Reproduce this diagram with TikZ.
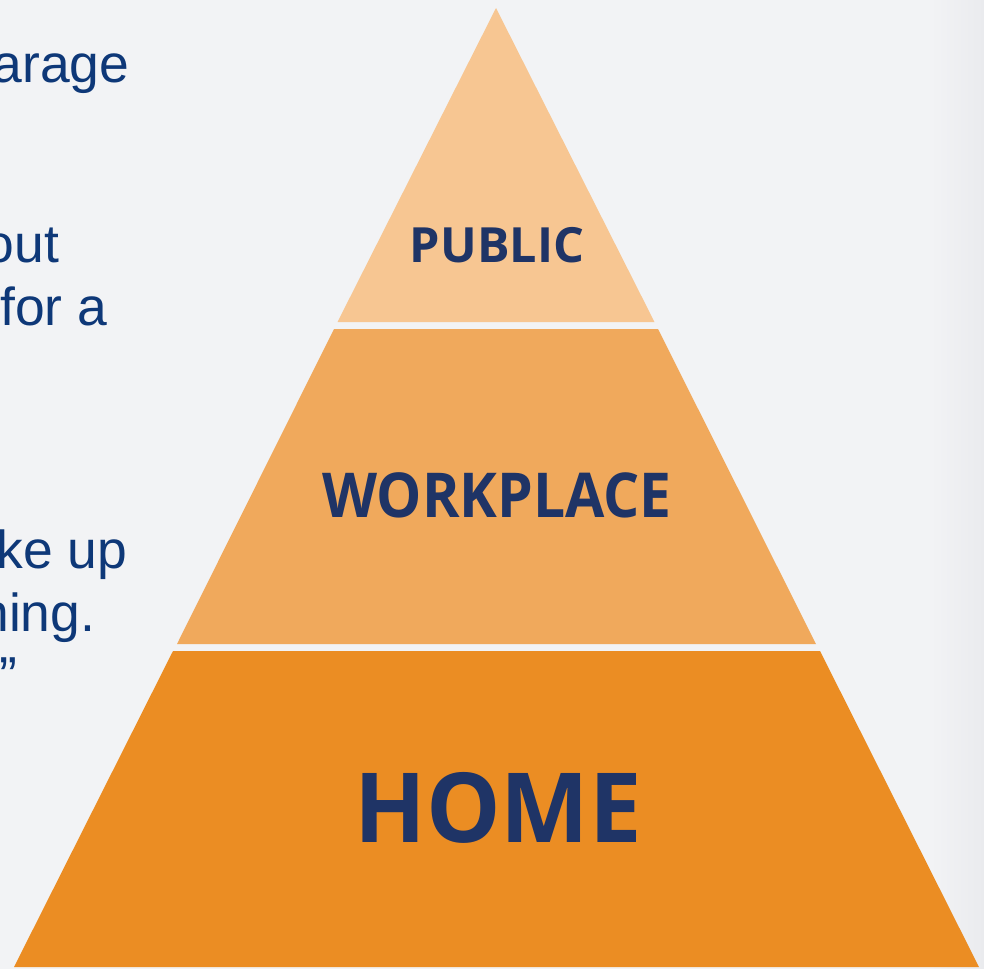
\documentclass[tikz,border=0pt]{standalone}
\usepackage{fontspec}
\setmainfont{Liberation Sans}
\newfontfamily\tierfont{Open Sans}
\usetikzlibrary{shadings}
\definecolor{bgcol}{HTML}{F2F3F5}
\definecolor{bgedge}{HTML}{EAEBEE}
\definecolor{pubcol}{HTML}{F7C692}
\definecolor{workcol}{HTML}{F0A95C}
\definecolor{homecol}{HTML}{EB8D23}
\definecolor{labcol}{HTML}{1F3466}
\definecolor{txtcol}{HTML}{0E3878}
\tikzset{
  frag/.style={anchor=base east, inner sep=0pt, text=txtcol, font=\fontsize{15.2}{18}\selectfont},
  tierlab/.style={inner sep=0pt, text=labcol},
}
\begin{document}
\begin{tikzpicture}[x=0.01cm,y=-0.01cm]
\useasboundingbox (0,0) rectangle (984,969);
\clip (0,0) rectangle (984,969);
\fill[bgcol] (0,0) rectangle (984,969);
\shade[left color=bgcol, right color=bgedge] (930,0) rectangle (984,969);
% tiers
\fill[pubcol] (496,8) -- (654.5,322) -- (337.5,322) -- cycle;
\fill[workcol] (334,329) -- (658,329) -- (816,644) -- (177,644) -- cycle;
\fill[homecol] (173,651) -- (820,651) -- (979,967) -- (14,967) -- cycle;
% tier labels
\node[tierlab, font=\tierfont\bfseries\fontsize{13.8}{16}\selectfont] (public) at (497,245) {PUBLIC};
\node[tierlab, font=\tierfont\bfseries\fontsize{17.6}{20}\selectfont, xscale=0.92] (workplace) at (497,495) {WORKPLACE};
\node[tierlab, font=\tierfont\bfseries\fontsize{27.5}{30}\selectfont, xscale=0.97] (home) at (498,808) {HOME};
% cut-off text on the left
\node[frag] (t1) at (130,82) {arage};
\node[frag] (t2) at (60,262) {out};
\node[frag] (t3) at (108,325) {for a};
\node[frag] (t4) at (128,568) {ke up};
\node[frag] (t5) at (96,631) {ning.};
\node[frag] (t6) at (18,694) {”};
\end{tikzpicture}
\end{document}
